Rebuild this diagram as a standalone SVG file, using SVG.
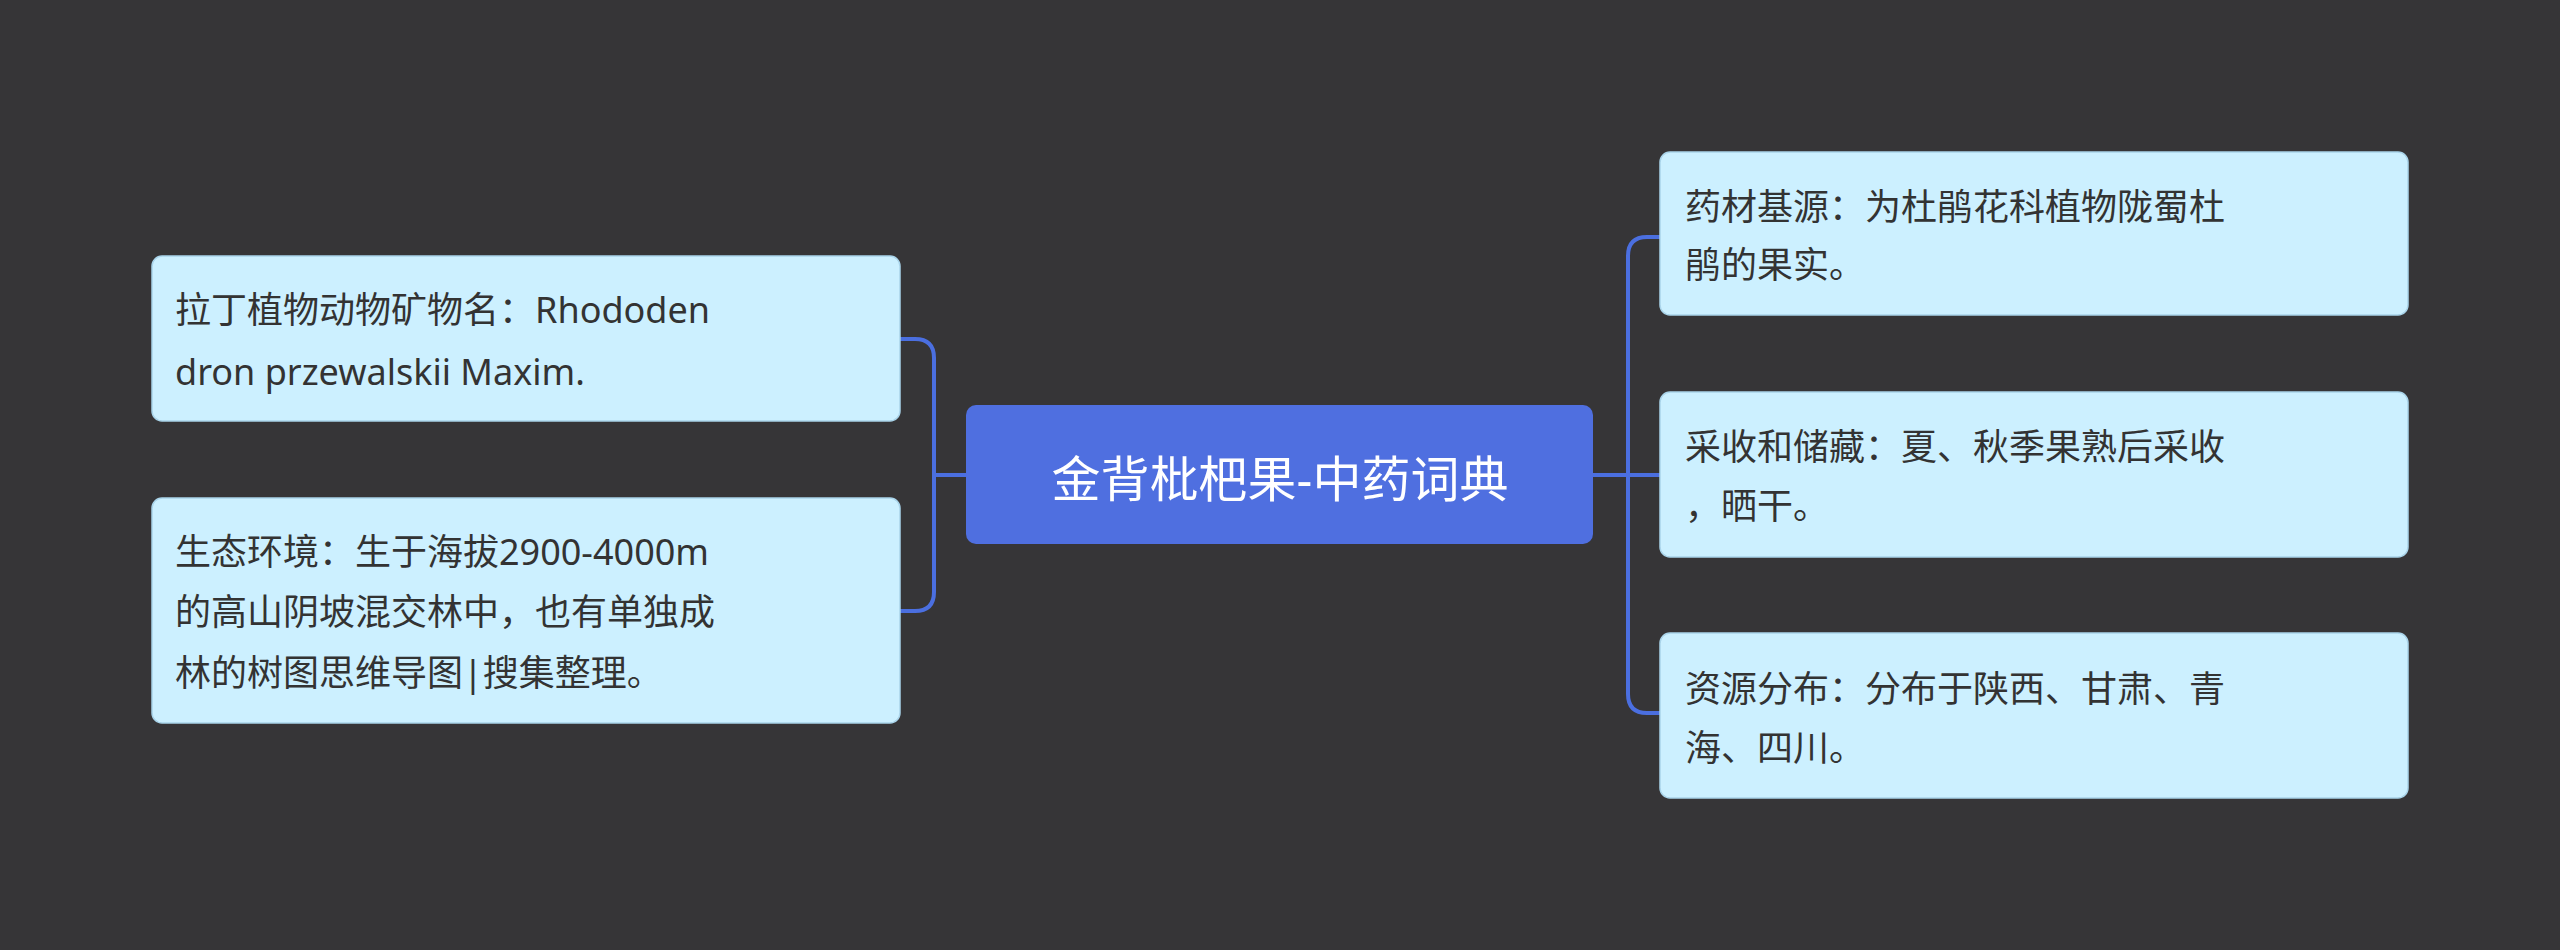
<svg xmlns="http://www.w3.org/2000/svg" width="2560" height="950" viewBox="0 0 2560 950">
<style>
.n{fill:#ccf0ff;stroke:#a9d4ea;stroke-width:1.5}
.t{font-family:"Noto Sans","Noto Sans CJK SC",sans-serif;font-size:36px;fill:#333}
.c{fill:none;stroke:#4b6fe0;stroke-width:4}
</style>
<rect width="2560" height="950" fill="#363537"/>
<g id="connectors">
<path class="c" d="M966 475 H934 M900 339 H915 Q934 339 934 358 V592 Q934 611 915 611 H900"/>
<path class="c" d="M1593 475 H1628 M1660 237 H1647 Q1628 237 1628 256 V694 Q1628 713 1647 713 H1660 M1628 475 H1660"/>
</g>
<g id="center"><rect x="966" y="405" width="627" height="139" rx="10" fill="#4f6fe0"/><text x="1280" y="497" text-anchor="middle" font-family="Noto Sans,Noto Sans CJK SC,sans-serif" font-size="49" fill="#fff">金背枇杷果-中药词典</text></g>
<g id="l1"><rect class="n" x="152" y="256" width="748" height="165" rx="10"/><text class="t" x="175" y="323">拉丁植物动物矿物名：Rhododen</text><text class="t" x="175" y="385">dron przewalskii Maxim.</text></g>
<g id="l2"><rect class="n" x="152" y="498" width="748" height="225" rx="10"/><text class="t" x="175" y="565">生态环境：生于海拔2900-4000m</text><text class="t" x="175" y="625">的高山阴坡混交林中，也有单独成</text><text class="t" x="175" y="686">林的树图思维导图|搜集整理。</text></g>
<g id="r1"><rect class="n" x="1660" y="152" width="748" height="163" rx="10"/><text class="t" x="1685" y="220">药材基源：为杜鹃花科植物陇蜀杜</text><text class="t" x="1685" y="278">鹃的果实。</text></g>
<g id="r2"><rect class="n" x="1660" y="392" width="748" height="165" rx="10"/><text class="t" x="1685" y="460">采收和储藏：夏、秋季果熟后采收</text><text class="t" x="1685" y="519">，晒干。</text></g>
<g id="r3"><rect class="n" x="1660" y="633" width="748" height="165" rx="10"/><text class="t" x="1685" y="702">资源分布：分布于陕西、甘肃、青</text><text class="t" x="1685" y="761">海、四川。</text></g>
</svg>
